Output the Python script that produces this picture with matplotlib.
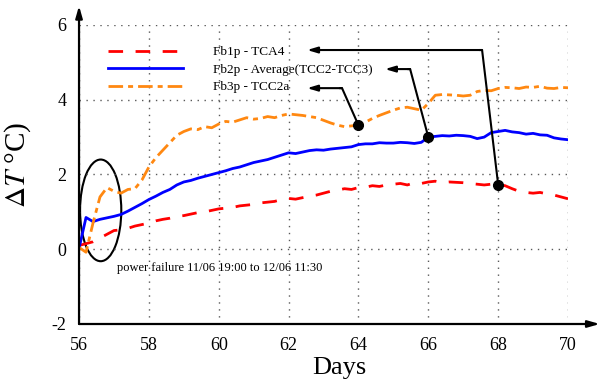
import numpy as np
import matplotlib
matplotlib.use("Agg")
import matplotlib.pyplot as plt
from matplotlib.patches import Ellipse

plt.rcParams['font.family'] = ['Liberation Serif', 'DejaVu Serif']
plt.rcParams['mathtext.fontset'] = 'stix'
plt.rcParams['axes.unicode_minus'] = False
plt.rcParams['lines.scale_dashes'] = False

# time axis (days), sampled every 0.2 day
days = np.round(np.arange(56.0, 70.01, 0.2), 1)

fb1p = [0.10, 0.15, 0.20, 0.30, 0.40, 0.50, 0.52, 0.56, 0.62, 0.66,
        0.70, 0.76, 0.80, 0.83, 0.88, 0.90, 0.94, 0.98, 1.00, 1.04,
        1.08, 1.10, 1.12, 1.16, 1.18, 1.20, 1.24, 1.26, 1.28, 1.33,
        1.36, 1.34, 1.38, 1.42, 1.45, 1.50, 1.55, 1.58, 1.62, 1.60,
        1.65, 1.66, 1.70, 1.68, 1.72, 1.74, 1.76, 1.72, 1.78, 1.76,
        1.80, 1.82, 1.78, 1.80, 1.79, 1.78, 1.76, 1.74, 1.72, 1.74,
        1.73, 1.70, 1.62, 1.55, 1.52, 1.50, 1.52, 1.48, 1.45, 1.40,
        1.35]

fb2p = [0.02, 0.85, 0.74, 0.80, 0.84, 0.88, 0.93, 1.02, 1.12, 1.22,
        1.33, 1.42, 1.52, 1.60, 1.72, 1.80, 1.84, 1.90, 1.95, 2.00,
        2.05, 2.10, 2.16, 2.20, 2.26, 2.32, 2.36, 2.40, 2.46, 2.52,
        2.58, 2.56, 2.60, 2.64, 2.66, 2.65, 2.68, 2.70, 2.72, 2.74,
        2.80, 2.82, 2.82, 2.85, 2.84, 2.84, 2.86, 2.85, 2.83, 2.86,
        3.00, 3.02, 3.04, 3.03, 3.05, 3.04, 3.02, 2.96, 3.00, 3.12,
        3.15, 3.18, 3.14, 3.12, 3.08, 3.10, 3.06, 3.05, 2.98, 2.95,
        2.93]

fb3p = [0.05, -0.08, 0.70, 1.40, 1.65, 1.55, 1.50, 1.60, 1.62, 1.85,
        2.20, 2.45, 2.65, 2.85, 3.05, 3.15, 3.22, 3.20, 3.28, 3.25,
        3.35, 3.42, 3.40, 3.46, 3.52, 3.48, 3.50, 3.55, 3.52, 3.58,
        3.62, 3.60, 3.58, 3.55, 3.52, 3.45, 3.38, 3.32, 3.28, 3.30,
        3.32, 3.40, 3.50, 3.58, 3.65, 3.72, 3.78, 3.80, 3.76, 3.72,
        3.90, 4.12, 4.14, 4.13, 4.12, 4.10, 4.12, 4.22, 4.25, 4.24,
        4.30, 4.33, 4.32, 4.30, 4.34, 4.33, 4.36, 4.31, 4.30, 4.33,
        4.32]

labels = ['Fb1p - TCA4', 'Fb2p - Average(TCC2-TCC3)', 'Fb3p - TCC2a']
colors = ['#ff0000', '#0000ff', '#ff8811']

# callouts: day of the marker, bend point, arrow tip
mark_days = [68, 66, 64]
bend_x = [67.54, 65.48, 63.53]
bend_y = [5.33, 4.82, 4.31]
tip_x = [62.53, 64.76, 62.53]

fig = plt.figure(figsize=(6.01, 3.84), dpi=100)
ax = fig.add_axes([0.1315, 0.15625, 0.8136, 0.7787])

ax.plot(days, fb1p, color=colors[0], lw=2, dashes=(10.5, 9), label=labels[0])
ax.plot(days, fb2p, color=colors[1], lw=2, label=labels[1])
ax.plot(days, fb3p, color=colors[2], lw=2, dashes=(10.5, 3.6, 3.6, 3.6), label=labels[2])

ax.set_xlim(56, 70)
ax.set_ylim(-2, 6)
ax.set_xticks(np.arange(56, 71, 2))
ax.set_yticks(np.arange(-2, 7, 2))
ax.tick_params(length=0, labelsize=13, pad=9)
ax.grid(color='0.35', linestyle=(0, (1, 4)), lw=1)
for s in ax.spines.values():
    s.set_visible(False)

# axes drawn as arrows
ax.annotate('', xy=(1.065, 0), xytext=(0, 0), xycoords='axes fraction',
            annotation_clip=False,
            arrowprops=dict(arrowstyle='-|>,head_width=0.2,head_length=0.7', color='black', lw=1.6, shrinkA=0, shrinkB=0))
ax.annotate('', xy=(0, 1.064), xytext=(0, 0), xycoords='axes fraction',
            annotation_clip=False,
            arrowprops=dict(arrowstyle='-|>,head_width=0.2,head_length=0.7', color='black', lw=1.6, shrinkA=0, shrinkB=0))

ax.set_xlabel('Days', fontsize=19)
ax.xaxis.set_label_coords(0.532, -0.11)
ax.set_ylabel(r'$\Delta T$ °C)', fontsize=21)
ax.yaxis.set_label_coords(-0.094, 0.532)

ax.legend(loc='upper left', bbox_to_anchor=(0.059, 0.93), frameon=False,
          handlelength=5.7, handletextpad=2.3, labelspacing=0.4, fontsize=9.5,
          borderpad=0, borderaxespad=0)

# power failure marker
ax.add_patch(Ellipse((56.62, 1.04), 1.18, 2.72, fill=False, color='black', lw=1.5, clip_on=False))
ax.text(57.09, -0.5, 'power failure 11/06 19:00 to 12/06 11:30', fontsize=9, va='center', ha='left')

series = [fb1p, fb2p, fb3p]
for i in range(3):
    my = np.interp(mark_days[i], days, series[i])
    ax.plot([mark_days[i], bend_x[i], bend_x[i] - 0.05], [my, bend_y[i], bend_y[i]], color='black', lw=1.5)
    ax.annotate('', xy=(tip_x[i], bend_y[i]), xytext=(bend_x[i], bend_y[i]),
                arrowprops=dict(arrowstyle='-|>,head_width=0.18,head_length=0.6', color='black', lw=1.5, shrinkA=0, shrinkB=0))
    ax.plot(mark_days[i], my, 'o', color='black', ms=7, zorder=5)

fig.savefig('out.png', dpi=100)
